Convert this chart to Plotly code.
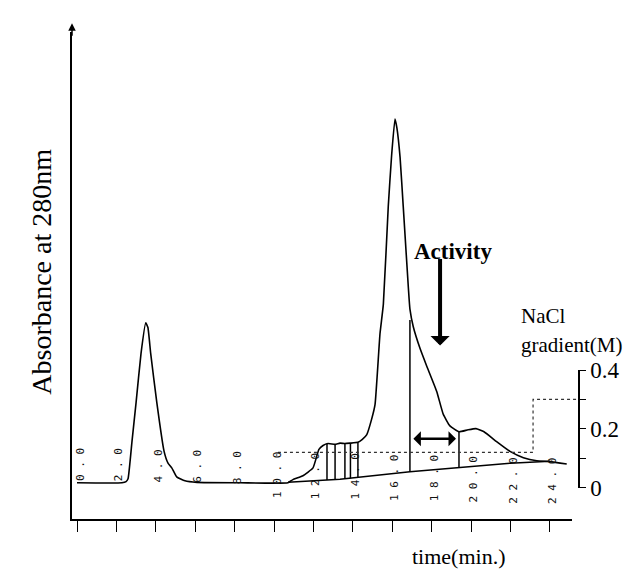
import plotly.graph_objects as go

# ---------------- data ----------------
# chromatogram: time (min) vs absorbance at 280 nm (relative units)
time_min = [0.0, 2.28, 2.49, 2.59, 2.79, 3.00, 3.25, 3.49, 3.60, 3.74, 4.05, 4.42, 4.62, 4.81,
            5.06, 5.48, 6.09, 8.27, 10.71, 10.96, 11.47, 11.98, 12.28, 12.49, 12.74, 13.10,
            13.35, 13.60, 13.86, 14.26, 14.47, 14.71, 14.96, 15.13, 15.38, 15.55, 15.80, 15.97,
            16.14, 16.24, 16.40, 16.56, 16.82, 16.90, 17.07, 17.41, 17.75, 18.26, 18.59, 18.93,
            19.39, 19.85, 20.25, 20.66, 21.30, 21.98, 22.66, 23.34, 24.01, 24.86]
absorbance = [0.0, 0.0, 0.003, 0.010, 0.105, 0.205, 0.330, 0.408, 0.396, 0.330, 0.205, 0.080,
              0.050, 0.038, 0.015, 0.005, 0.001, 0.0, 0.0, 0.008, 0.018, 0.038, 0.085, 0.095,
              0.100, 0.098, 0.101, 0.100, 0.101, 0.103, 0.110, 0.123, 0.163, 0.200, 0.380,
              0.455, 0.705, 0.835, 0.928, 0.905, 0.830, 0.705, 0.498, 0.443, 0.398, 0.343,
              0.298, 0.233, 0.175, 0.145, 0.130, 0.135, 0.138, 0.130, 0.105, 0.080, 0.064,
              0.056, 0.054, 0.048]

# integration baseline under the second group of peaks
baseline_time = [10.71, 13.35, 16.90, 19.34, 21.98, 24.01]
baseline_abs = [0.001, 0.009, 0.028, 0.038, 0.050, 0.055]

# fraction drop lines (time, top absorbance, bottom absorbance)
drop_time = [12.69, 13.10, 13.60, 13.88, 14.26, 16.90, 19.39]
drop_top = [0.100, 0.098, 0.100, 0.101, 0.103, 0.415, 0.130]
drop_bottom = [0.007, 0.008, 0.010, 0.011, 0.013, 0.028, 0.038]

# NaCl gradient (M)
grad_time = [10.2, 23.15, 23.15, 25.48]
grad_nacl = [0.12, 0.12, 0.30, 0.30]

# time tick labels printed along the trace
time_ticks = [0, 2, 4, 6, 8, 10, 12, 14, 16, 18, 20, 22, 24]
time_tick_text = ["0.0", "2.0", "4.0", "6.0", "8.0", "10.0", "12.0", "14.0", "16.0",
                  "18.0", "20.0", "22.0", "24.0"]

# NaCl axis ticks
nacl_ticks = [0, 0.1, 0.2, 0.3, 0.4]
nacl_tick_text = ["0", "", "0.2", "", "0.4"]

# activity window (min) and activity marker
activity_window = [17.0, 19.24]
activity_time = 18.43

# ---------------- figure ----------------
SERIF = "Liberation Serif, Times New Roman, serif"
fig = go.Figure()

fig.add_trace(go.Scatter(x=time_min, y=absorbance, mode="lines",
                         line=dict(color="black", width=1.6, shape="spline", smoothing=0.4),
                         hoverinfo="skip", showlegend=False))
fig.add_trace(go.Scatter(x=baseline_time, y=baseline_abs, mode="lines",
                         line=dict(color="black", width=1.5),
                         hoverinfo="skip", showlegend=False))
dx, dy = [], []
for t, top, bot in zip(drop_time, drop_top, drop_bottom):
    dx += [t, t, None]
    dy += [bot, top, None]
fig.add_trace(go.Scatter(x=dx, y=dy, mode="lines", line=dict(color="black", width=1.5),
                         hoverinfo="skip", showlegend=False))
fig.add_trace(go.Scatter(x=grad_time, y=grad_nacl, mode="lines", xaxis="x2", yaxis="y2",
                         line=dict(color="#333333", width=1.2, dash="dot"),
                         hoverinfo="skip", showlegend=False))

annotations = []
# rotated time labels along the baseline
for t, txt in zip(time_ticks, time_tick_text):
    annotations.append(dict(x=t + 0.15, y=0.095 - 0.00115 * t, xref="x", yref="y",
                            text=" ".join(txt), textangle=-90, showarrow=False,
                            xanchor="center", yanchor="top",
                            font=dict(family="DejaVu Sans Mono", size=11, color="#111111")))
# arrow on the absorbance axis
annotations.append(dict(x=0, y=1.018, xref="paper", yref="paper", ax=0, ay=14, text="",
                        showarrow=True, arrowhead=2, arrowsize=1, arrowwidth=1.5,
                        arrowcolor="black"))
# Activity arrow
annotations.append(dict(x=activity_time, y=0.35, xref="x", yref="y", ax=0, ay=-88,
                        text="", showarrow=True, arrowhead=1, arrowsize=0.8, arrowwidth=4,
                        arrowcolor="black"))
annotations.append(dict(x=0.752, y=0.549, xref="paper", yref="paper", text="<b>Activity</b>",
                        xanchor="center", yanchor="middle", showarrow=False,
                        font=dict(family=SERIF, size=23, color="black")))
# activity window double arrow
annotations.append(dict(x=activity_window[1], y=0.1125, xref="x", yref="y",
                        ax=activity_window[0], ay=0.1125, axref="x", ayref="y", text="",
                        showarrow=True, arrowhead=1, startarrowhead=1, arrowside="end+start",
                        arrowsize=1, startarrowsize=1, arrowwidth=2.5, arrowcolor="black"))
# texts
annotations.append(dict(x=-0.059, y=0.508, xref="paper", yref="paper",
                        text="Absorbance at 280nm", textangle=-90, showarrow=False,
                        xanchor="center", yanchor="middle",
                        font=dict(family=SERIF, size=28, color="black")))
annotations.append(dict(x=0.763, y=-0.078, xref="paper", yref="paper", text="time(min.)",
                        xanchor="center", yanchor="middle", showarrow=False,
                        font=dict(family=SERIF, size=22, color="black")))
annotations.append(dict(x=0.8817, y=0.417, xref="paper", yref="paper", text="NaCl",
                        xanchor="left", yanchor="middle", showarrow=False,
                        font=dict(family=SERIF, size=21, color="black")))
annotations.append(dict(x=0.8817, y=0.358, xref="paper", yref="paper", text="gradient(M)",
                        xanchor="left", yanchor="middle", showarrow=False,
                        font=dict(family=SERIF, size=21, color="black")))

# the page body adds an 8 px offset, so margins are reduced by 8 px on left/top
fig.update_layout(
    width=635, height=573,
    margin=dict(l=64, r=64, t=14, b=62),
    paper_bgcolor="white", plot_bgcolor="rgba(0,0,0,0)",
    showlegend=False,
    xaxis=dict(domain=[0, 500 / 507], range=[-0.254, 25.127], showline=True,
               linecolor="black", linewidth=1.5, ticks="outside", ticklen=11,
               tickwidth=1.2, tickcolor="black", tickvals=time_ticks,
               showticklabels=False, showgrid=False, zeroline=False),
    yaxis=dict(range=[-0.0925, 1.15], showline=True, linecolor="black", linewidth=1.5,
               ticks="", showticklabels=False, showgrid=False, zeroline=False),
    xaxis2=dict(domain=[0, 1], range=[-0.254, 25.482], anchor="y2", visible=False),
    yaxis2=dict(domain=[0.0644, 0.3058], range=[0, 0.4], anchor="free", position=1,
                side="right", showline=True, linecolor="black", linewidth=1.5,
                ticks="outside", ticklen=6, tickwidth=1.2, tickcolor="black",
                tickvals=nacl_ticks, ticktext=nacl_tick_text,
                tickfont=dict(family=SERIF, size=23, color="black"),
                showgrid=False, zeroline=False),
    annotations=annotations,
)

fig.write_html("out.html")
